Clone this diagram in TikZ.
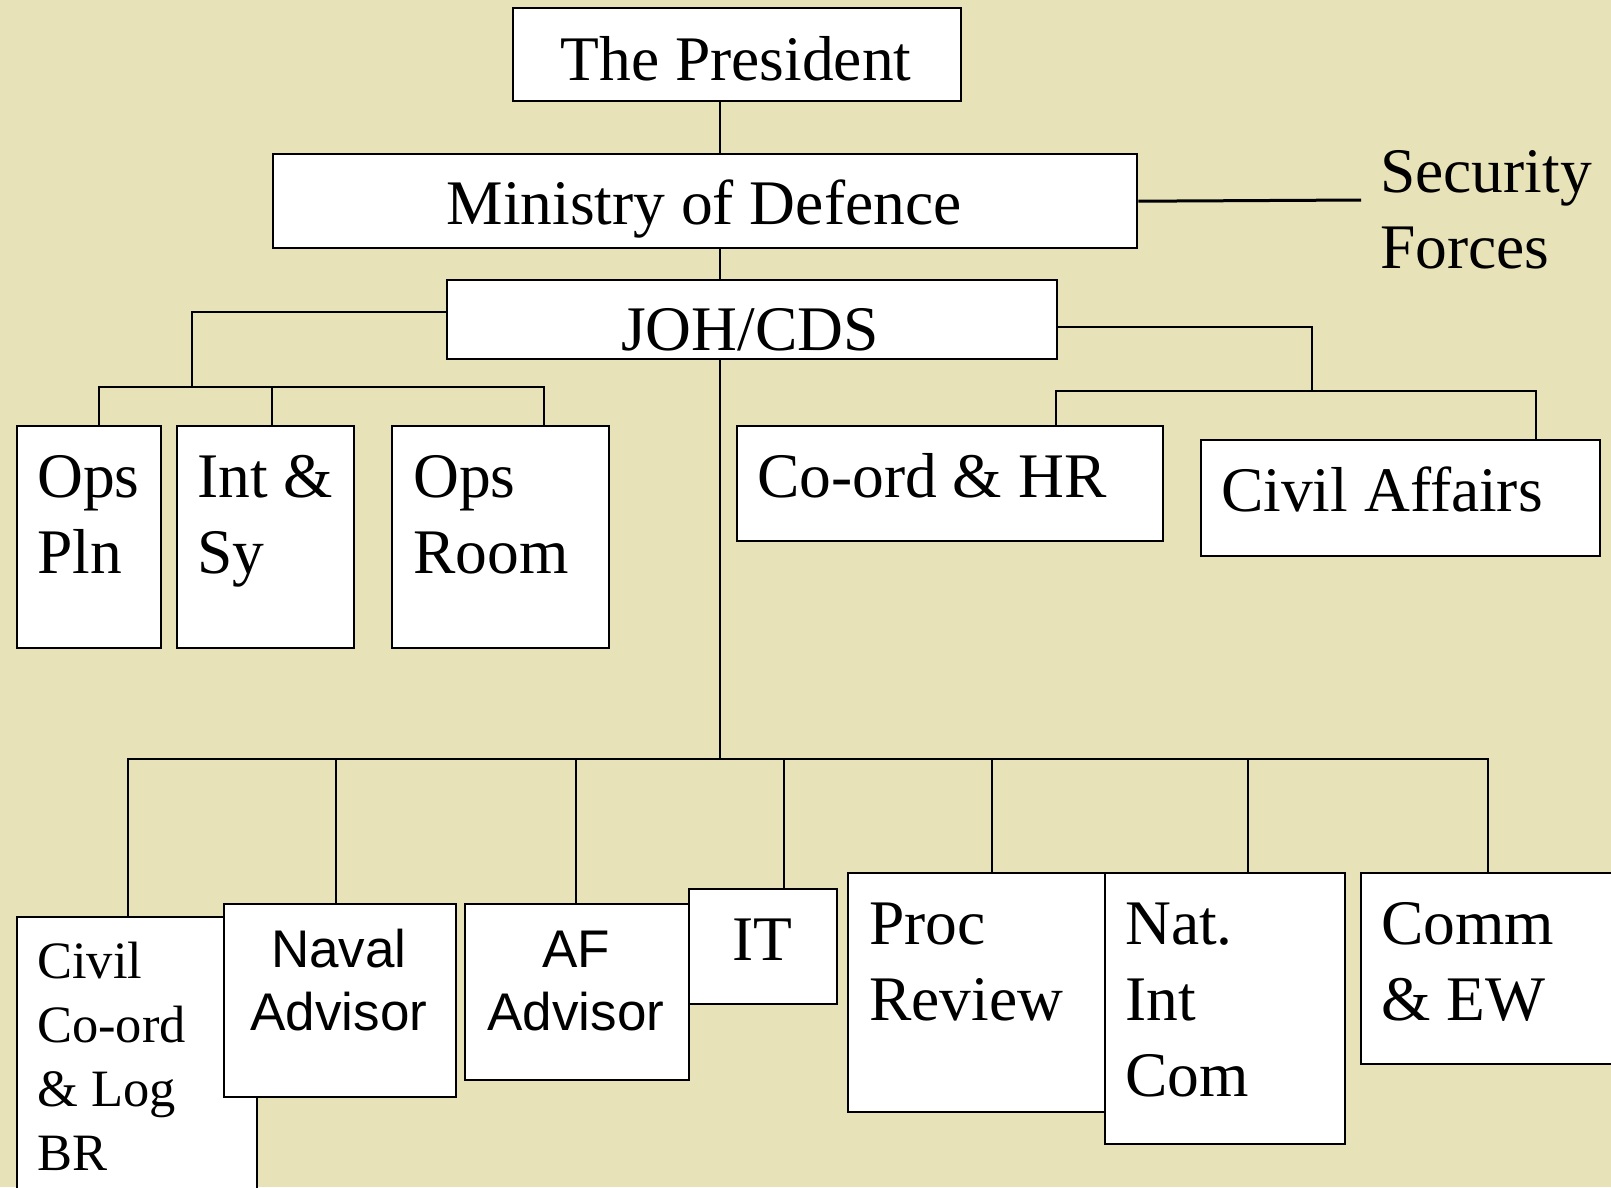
\documentclass[tikz,border=0pt]{standalone}
\usepackage{fontspec}
\setmainfont{Liberation Serif}
\newfontfamily\arialfont{Liberation Sans}
\usetikzlibrary{calc}
\definecolor{bg}{RGB}{232,226,184}
\begin{document}
\begin{tikzpicture}[x=1pt,y=-1pt,
  box/.style={draw=black,line width=2.4pt,fill=white,rectangle,inner sep=0pt,anchor=north west},
  conn/.style={line width=2.2pt,line cap=rect},
  bigl/.style={font=\fontsize{63.5}{76}\selectfont,inner sep=0pt,align=left,anchor=base west},
  bigc/.style={font=\fontsize{63.5}{76}\selectfont,inner sep=0pt,align=center,anchor=base},
  smalll/.style={font=\fontsize{52.5}{64}\selectfont,inner sep=0pt,align=left,anchor=base west},
  sansc/.style={font=\arialfont\fontsize{53}{63}\selectfont,inner sep=0pt,align=center,anchor=base}]
\useasboundingbox (0,0) rectangle (1611,1187);
\fill[bg] (0,0) rectangle (1611,1187);
\clip (0,0) rectangle (1611,1187);

% boxes
\node[box,minimum width=448pt,minimum height=93pt] (pres) at (512,7) {};
\node[box,minimum width=864pt,minimum height=94pt] (mod) at (272,153) {};
\node[box,minimum width=610pt,minimum height=79pt] (joh) at (446,279) {};
\node[box,minimum width=144pt,minimum height=222pt] (opspln) at (16,425) {};
\node[box,minimum width=177pt,minimum height=222pt] (intsy) at (176,425) {};
\node[box,minimum width=217pt,minimum height=222pt] (opsroom) at (391,425) {};
\node[box,minimum width=426pt,minimum height=115pt] (coord) at (736,425) {};
\node[box,minimum width=399pt,minimum height=116pt] (civaff) at (1200,439) {};
\node[box,minimum width=240pt,minimum height=300pt] (civil) at (16,916) {};
\node[box,minimum width=232pt,minimum height=193pt] (naval) at (223,903) {};
\node[box,minimum width=224pt,minimum height=176pt] (af) at (464,903) {};
\node[box,minimum width=148pt,minimum height=115pt] (it) at (688,888) {};
\node[box,minimum width=257pt,minimum height=239pt] (proc) at (847,872) {};
\node[box,minimum width=240pt,minimum height=271pt] (nat) at (1104,872) {};
\node[box,minimum width=280pt,minimum height=191pt] (comm) at (1360,872) {};

% texts (multi-line nodes are placed by the baseline of their last line)
\node[bigc] (tpres) at (736,80) {The President};
\node[bigc] (tmod) at (704,224) {Ministry of Defence};
\node[bigc] (tjoh) at (750,350) {JOH/CDS};
\node[bigl] (sf) at (1380,268) {Security\\Forces};
\node[bigl] (topspln) at (37,573) {Ops\\Pln};
\node[bigl] (tintsy) at (197,573) {Int \&\\Sy};
\node[bigl] (topsroom) at (413,573) {Ops\\Room};
\node[bigl] (tcoord) at (757,497) {Co-ord \& HR};
\node[bigl] (tcivaff) at (1221,511) {Civil Affairs};
\node[smalll] (tcivil) at (37,1170) {Civil\\Co-ord\\\& Log\\BR};
\node[sansc] (tnaval) at (339,1030) {Naval\\Advisor};
\node[sansc] (taf) at (576,1030) {AF\\Advisor};
\node[bigc] (tit) at (762,960) {IT};
\node[bigl] (tproc) at (869,1020) {Proc\\Review};
\node[bigl] (tnat) at (1125,1096) {Nat.\\Int\\Com};
\node[bigl] (tcomm) at (1381,1020) {Comm\\\& EW};

% junction coordinates
\coordinate (trunk) at (720,0);
\coordinate (sfend) at (1361,200);
\coordinate (lbend) at (192,312);
\coordinate (lj) at (192,387);
\coordinate (ld1) at (99,387);
\coordinate (ld2) at (272,387);
\coordinate (ld3) at (544,387);
\coordinate (rbend) at (1312,327);
\coordinate (rj) at (1312,391);
\coordinate (rd1) at (1056,391);
\coordinate (rd2) at (1536,391);
\coordinate (bj) at (720,759);
\coordinate (bd1) at (128,759);
\coordinate (bd2) at (336,759);
\coordinate (bd3) at (576,759);
\coordinate (bd4) at (784,759);
\coordinate (bd5) at (992,759);
\coordinate (bd6) at (1248,759);
\coordinate (bd7) at (1488,759);

% connectors
\draw[conn] (pres.south -| trunk) -- (mod.north -| trunk);
\draw[conn] (mod.south -| trunk) -- (joh.north -| trunk);
\draw[line width=3pt] (mod.east) -- (sfend);
\draw[conn] (joh.west |- lbend) -| (lj);
\draw[conn] (ld1) -- (ld3);
\draw[conn] (ld1) -- (ld1 |- opspln.north);
\draw[conn] (ld2) -- (ld2 |- intsy.north);
\draw[conn] (ld3) -- (ld3 |- opsroom.north);
\draw[conn] (joh.east |- rbend) -| (rj);
\draw[conn] (rd1) -- (rd2);
\draw[conn] (rd1) -- (rd1 |- coord.north);
\draw[conn] (rd2) -- (rd2 |- civaff.north);
\draw[conn] (joh.south -| trunk) -- (bj);
\draw[conn] (bd1) -- (bd7);
\draw[conn] (bd1) -- (bd1 |- civil.north);
\draw[conn] (bd2) -- (bd2 |- naval.north);
\draw[conn] (bd3) -- (bd3 |- af.north);
\draw[conn] (bd4) -- (bd4 |- it.north);
\draw[conn] (bd5) -- (bd5 |- proc.north);
\draw[conn] (bd6) -- (bd6 |- nat.north);
\draw[conn] (bd7) -- (bd7 |- comm.north);
\end{tikzpicture}
\end{document}
